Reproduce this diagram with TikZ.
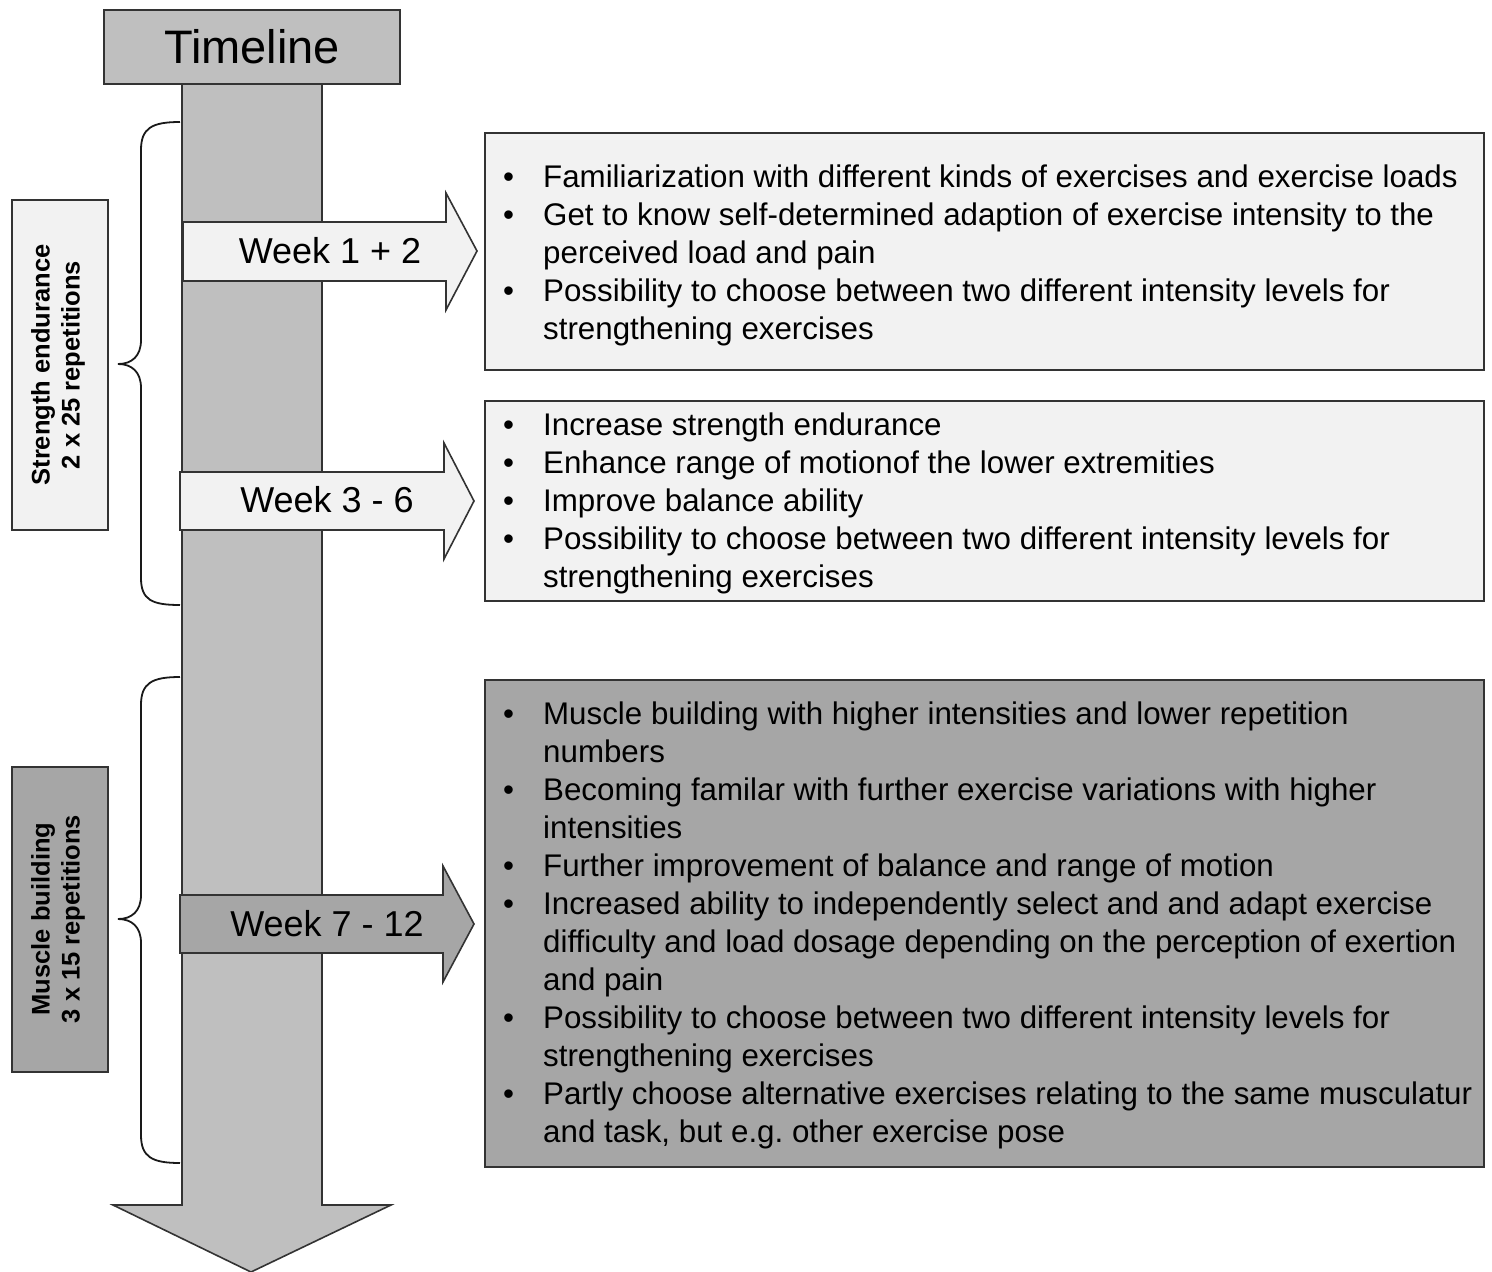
\documentclass[tikz,border=0pt]{standalone}
\usepackage{fontspec}
\setmainfont{Liberation Sans}
\definecolor{lightg}{HTML}{F2F2F2}
\definecolor{midg}{HTML}{BFBFBF}
\definecolor{darkg}{HTML}{A6A6A6}
\definecolor{edge}{HTML}{333333}
\newcommand{\listfont}{\fontsize{31.3}{38}\selectfont}
\begin{document}
\begin{tikzpicture}[x=1pt,y=-1pt,
  outl/.style={draw=edge, line width=1.6pt, line join=miter},
  lightshape/.style={outl, fill=lightg},
  midshape/.style={outl, fill=midg},
  darkshape/.style={outl, fill=darkg},
  bracepath/.style={draw=black!90, line width=1.8pt},
  listtext/.style={inner sep=0pt, anchor=base west, font=\listfont},
  weektext/.style={inner sep=0pt, font=\fontsize{36}{40}\selectfont},
  sidetext/.style={inner sep=0pt, rotate=90, align=center, font=\fontsize{25.5}{30}\selectfont\bfseries}
]
\useasboundingbox (0,0) rectangle (1492,1272);

% timeline shaft with arrow head
\path[midshape] (182,84) -- (322,84) -- (322,1205) -- (391,1205) -- (251,1272) -- (113,1205) -- (182,1205) -- cycle;
% title box
\path[midshape] (104,10) rectangle (400,84);
\node[inner sep=0pt, font=\fontsize{47}{50}\selectfont] (title) at (252,47) {Timeline};

% braces
\path[bracepath] (180,122) .. controls (152,122) and (141,128) .. (141,150) -- (141,340)
  .. controls (141,356) and (132,364) .. (118,364) .. controls (132,364) and (141,372) .. (141,388)
  -- (141,578) .. controls (141,600) and (152,605) .. (180,605);
\path[bracepath] (180,677) .. controls (152,677) and (141,683) .. (141,705) -- (141,895)
  .. controls (141,911) and (132,919) .. (118,919) .. controls (132,919) and (141,927) .. (141,943)
  -- (141,1135) .. controls (141,1157) and (152,1163) .. (180,1163);

% side label boxes
\path[lightshape] (12,200) rectangle (108,530);
\node[sidetext] (se) at (58,365) {Strength endurance\\2 x 25 repetitions};
\path[darkshape] (12,767) rectangle (108,1072);
\node[sidetext] (mb) at (58,919) {Muscle building\\3 x 15 repetitions};

% week arrows
\path[lightshape] (183,222) -- (446,222) -- (446,193) -- (477,251) -- (446,310) -- (446,281) -- (183,281) -- cycle;
\node[weektext] (w1) at (330,251) {Week 1 + 2};
\path[lightshape] (180,472) -- (444,472) -- (444,443) -- (474,501) -- (444,559) -- (444,530) -- (180,530) -- cycle;
\node[weektext] (w2) at (327,500) {Week 3 - 6};
\path[darkshape] (180,895) -- (443,895) -- (443,866) -- (474,924) -- (443,982) -- (443,953) -- (180,953) -- cycle;
\node[weektext] (w3) at (327,924) {Week 7 - 12};

% content boxes
\path[lightshape] (485,133) rectangle (1484,370);
\node[listtext] (t1) at (503,187) {\listfont\begin{tabular}[t]{@{}p{40pt}@{}l@{}}
\textbullet & Familiarization with different kinds of exercises and exercise loads\\
\textbullet & Get to know self-determined adaption of exercise intensity to the\\
 & perceived load and pain\\
\textbullet & Possibility to choose between two different intensity levels for\\
 & strengthening exercises
\end{tabular}};

\path[lightshape] (485,401) rectangle (1484,601);
\node[listtext] (t2) at (503,435) {\listfont\begin{tabular}[t]{@{}p{40pt}@{}l@{}}
\textbullet & Increase strength endurance\\
\textbullet & Enhance range of motionof the lower extremities\\
\textbullet & Improve balance ability\\
\textbullet & Possibility to choose between two different intensity levels for\\
 & strengthening exercises
\end{tabular}};

\path[darkshape] (485,680) rectangle (1484,1167);
\node[listtext] (t3) at (503,724) {\listfont\begin{tabular}[t]{@{}p{40pt}@{}l@{}}
\textbullet & Muscle building with higher intensities and lower repetition\\
 & numbers\\
\textbullet & Becoming familar with further exercise variations with higher\\
 & intensities\\
\textbullet & Further improvement of balance and range of motion\\
\textbullet & Increased ability to independently select and and adapt exercise\\
 & difficulty and load dosage depending on the perception of exertion\\
 & and pain\\
\textbullet & Possibility to choose between two different intensity levels for\\
 & strengthening exercises\\
\textbullet & Partly choose alternative exercises relating to the same musculatur\\
 & and task, but e.g.\ other exercise pose
\end{tabular}};
\end{tikzpicture}
\end{document}
